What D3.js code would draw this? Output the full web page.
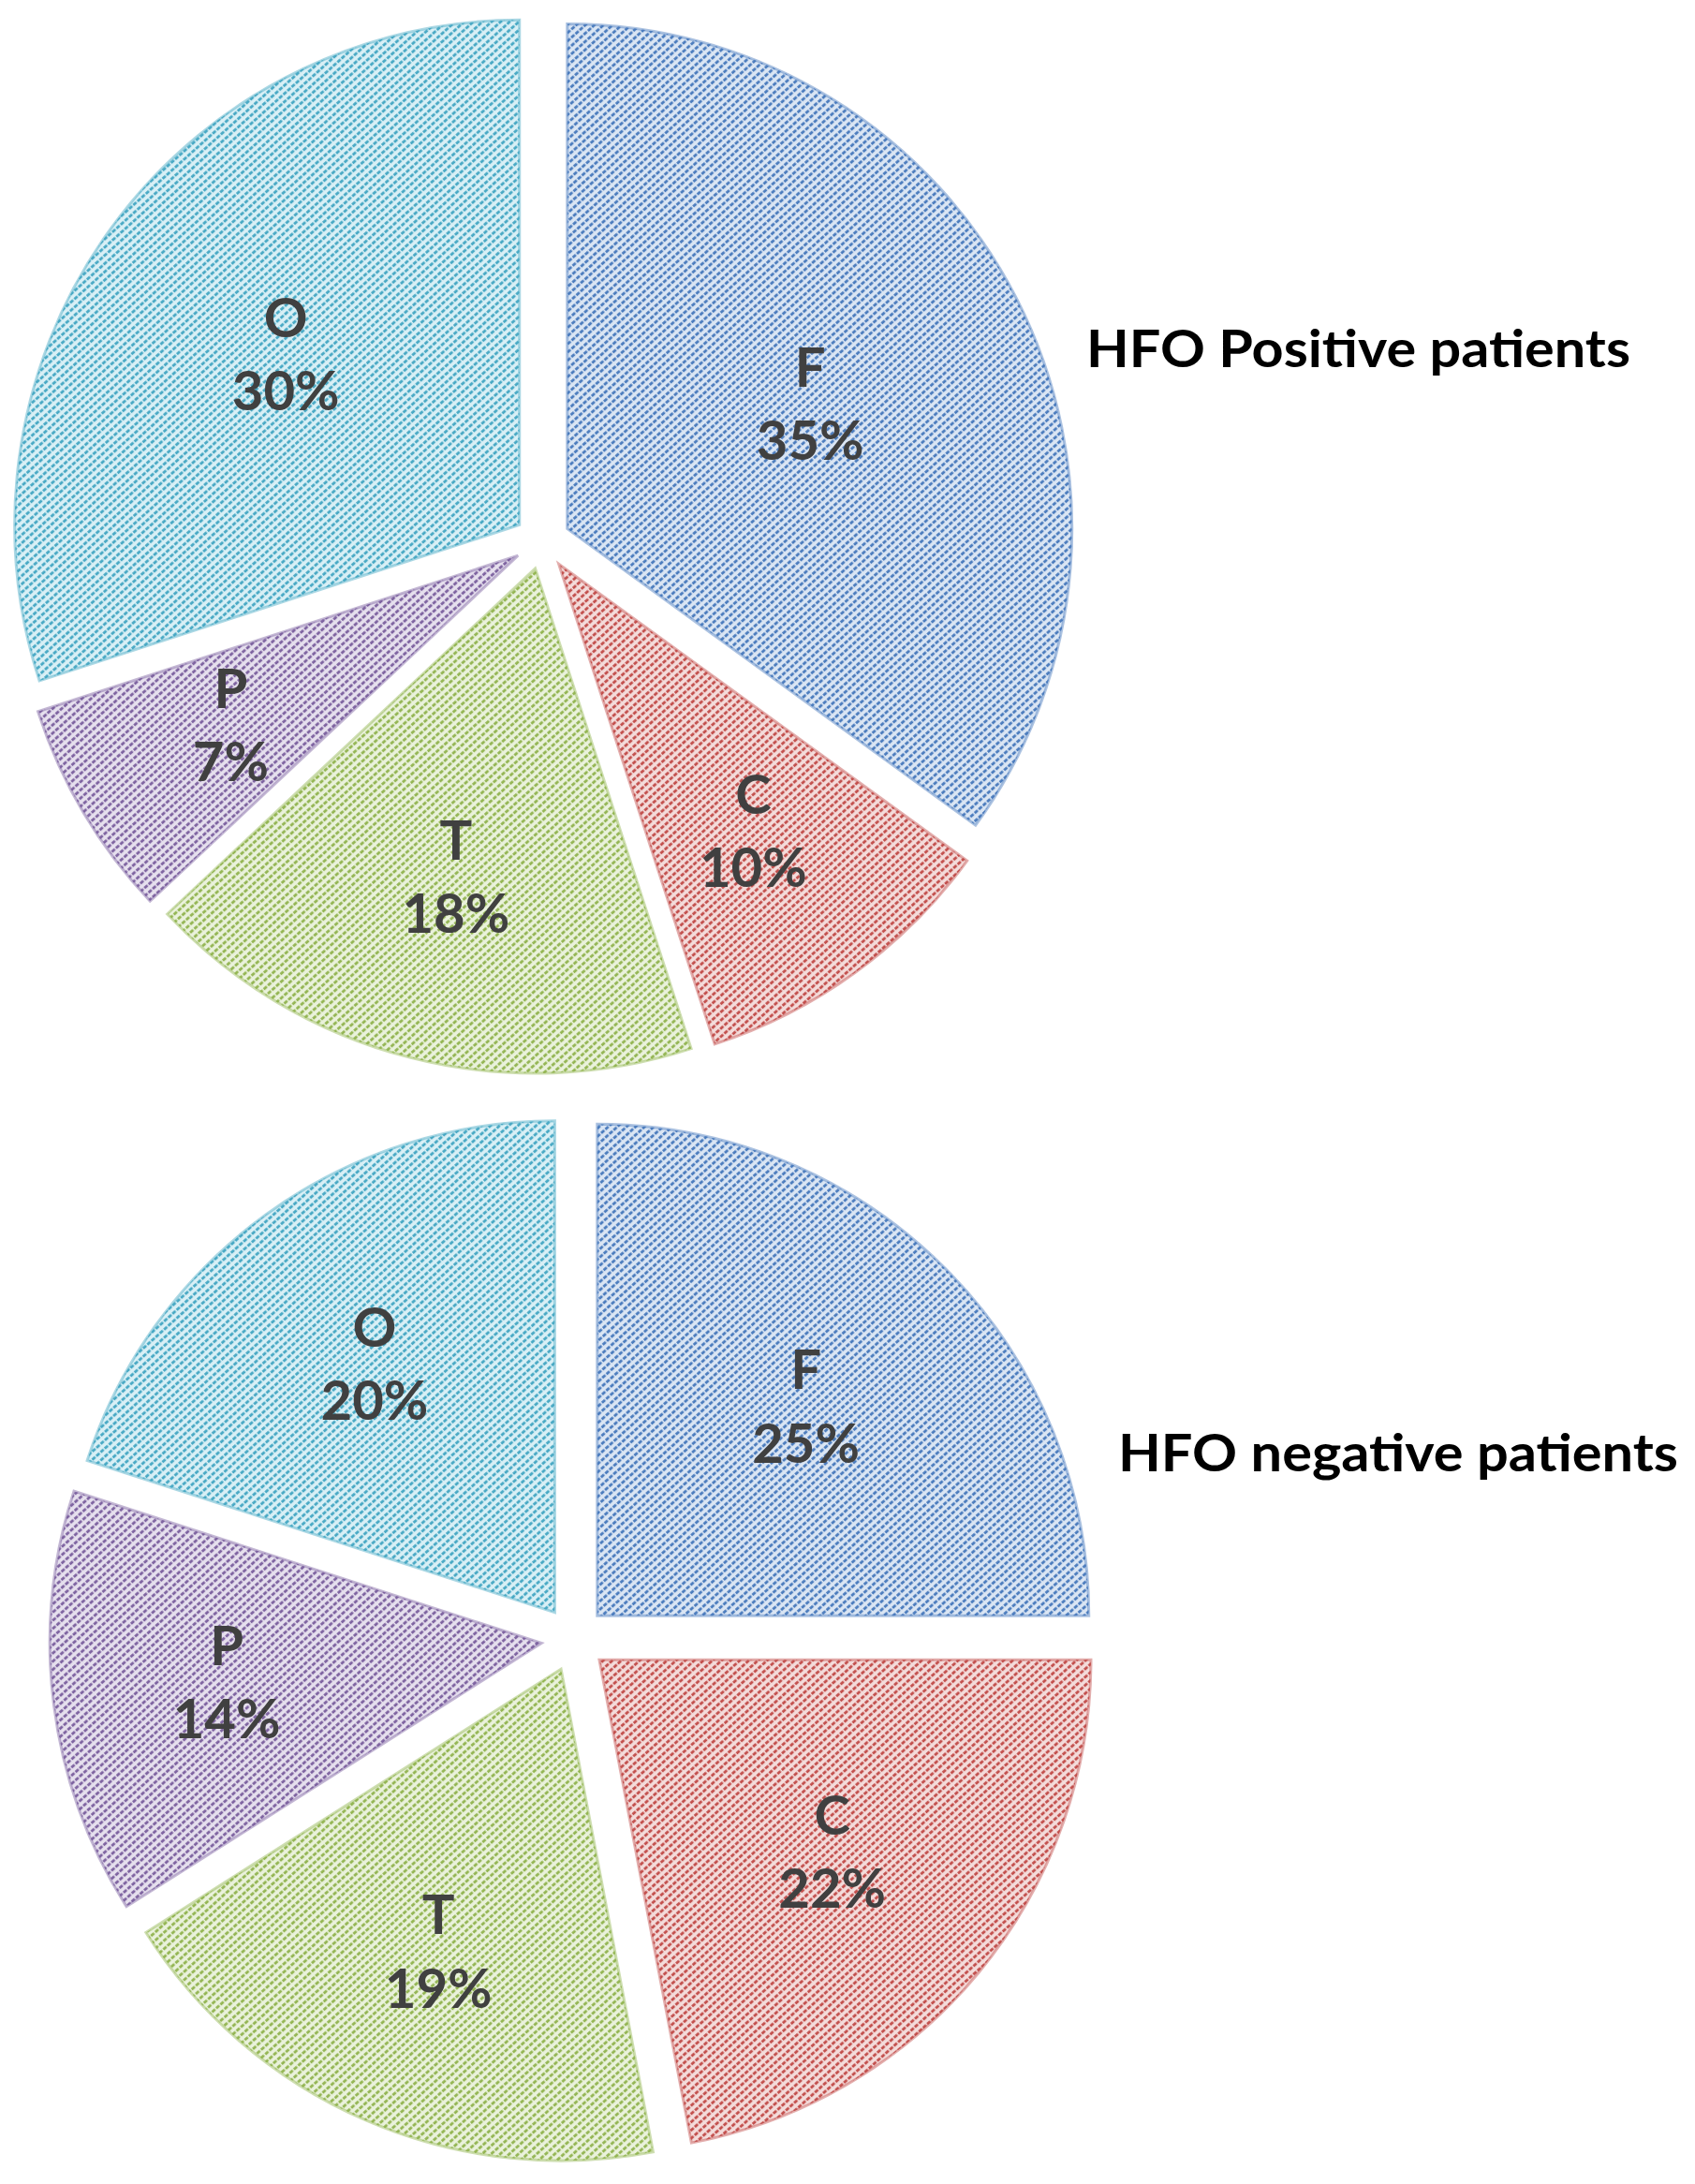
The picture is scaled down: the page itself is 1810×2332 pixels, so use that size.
<!DOCTYPE html>
<html>
<head>
<meta charset="utf-8">
<script src="https://cdn.jsdelivr.net/npm/d3@7"></script>
<style>
  body { margin: 0; background: #fff; }
  svg { display: block; }
</style>
</head>
<body>
<div id="chart"></div>
<script>
// lobe categories, same order in both pies (clockwise from 12 o'clock)
const categories = ["F", "C", "T", "P", "O"]
const positiveValues = [35, 10, 18, 7, 30]
const negativeValues = [25, 22, 19, 14, 20]
const pieTitles = ["HFO Positive patients", "HFO negative patients"]

// Excel-ish pattern colours: line colour + light background
const lineColors = ["#4a7bbd", "#c24e4b", "#93b552", "#7d62a0", "#47a8c4"]
const backColors = ["#dbe6f4", "#f4dcdb", "#eaf2dc", "#e6e0ee", "#d9f0f6"]

const width = 1810
const height = 2332

const svg = d3.select("#chart")
  .append("svg")
  .attr("width", width)
  .attr("height", height)

const defs = svg.append("defs")

// dashed diagonal hatch, rising to the right
categories.forEach((c, i) => {
  const p = defs.append("pattern")
    .attr("id", "pat-" + c)
    .attr("patternUnits", "userSpaceOnUse")
    .attr("width", 6)
    .attr("height", 6.5)
    .attr("patternTransform", "rotate(-42)")
  p.append("rect")
    .attr("width", 6).attr("height", 6.5)
    .attr("fill", backColors[i])
  p.append("rect")
    .attr("x", 0).attr("y", 2)
    .attr("width", 4.4).attr("height", 2.8)
    .attr("fill", lineColors[i])
})

const color = d3.scaleOrdinal().domain(categories).range(categories.map(c => `url(#pat-${c})`))
const stroke = d3.scaleOrdinal().domain(categories).range(lineColors)

const pies = [
  { values: positiveValues, title: pieTitles[0], cx: 579, cy: 578, r: 539, explode: 30, tx: 1160, ty: 392, tw: 581 },
  { values: negativeValues, title: pieTitles[1], cx: 613, cy: 1750, r: 525, explode: 35, tx: 1194, ty: 1571, tw: 598 }
]

const pie = d3.pie().sort(null).value(d => d.value)

function drawPie(cfg) {
  const { values, title, cx, cy, r, explode } = cfg
  const data = pie(categories.map((c, i) => ({ key: c, value: values[i] })))
  const total = d3.sum(values)
  const arc = d3.arc().innerRadius(0).outerRadius(r)

  const g = svg.append("g").attr("transform", `translate(${cx},${cy})`)

  const slice = g.selectAll("g.slice")
    .data(data)
    .enter()
      .append("g")
      .attr("class", "slice")
      .attr("transform", d => {
        const mid = (d.startAngle + d.endAngle) / 2
        return `translate(${Math.sin(mid) * explode},${-Math.cos(mid) * explode})`
      })

  slice.append("path")
    .attr("d", arc)
    .attr("fill", d => color(d.data.key))
    .attr("stroke", d => stroke(d.data.key))
    .attr("stroke-opacity", 0.45)
    .attr("stroke-width", 3)

  // label sits near the sector centroid
  const labelPos = d => {
    const mid = (d.startAngle + d.endAngle) / 2
    const half = (d.endAngle - d.startAngle) / 2
    const dist = 2 * r * Math.sin(half) / (3 * half)
    return [Math.sin(mid) * dist, -Math.cos(mid) * dist]
  }

  const label = slice.append("text")
    .attr("transform", d => `translate(${labelPos(d)})`)
    .attr("text-anchor", "middle")
    .attr("font-family", "Lato, 'Open Sans', sans-serif")
    .attr("font-weight", "bold")
    .attr("font-size", 58)
    .attr("fill", "#404040")

  label.append("tspan")
    .attr("x", 0)
    .attr("y", "-0.33em")
    .text(d => d.data.key)
  label.append("tspan")
    .attr("x", 0)
    .attr("y", "1.02em")
    .text(d => Math.round(d.data.value / total * 100) + "%")

  svg.append("text")
    .attr("x", cfg.tx)
    .attr("y", cfg.ty)
    .attr("font-family", "Lato, 'Open Sans', sans-serif")
    .attr("font-weight", "bold")
    .attr("font-size", 56)
    .attr("textLength", cfg.tw)
    .attr("lengthAdjust", "spacingAndGlyphs")
    .attr("fill", "#000")
    .text(title)
}

pies.forEach(drawPie)
</script>
</body>
</html>
